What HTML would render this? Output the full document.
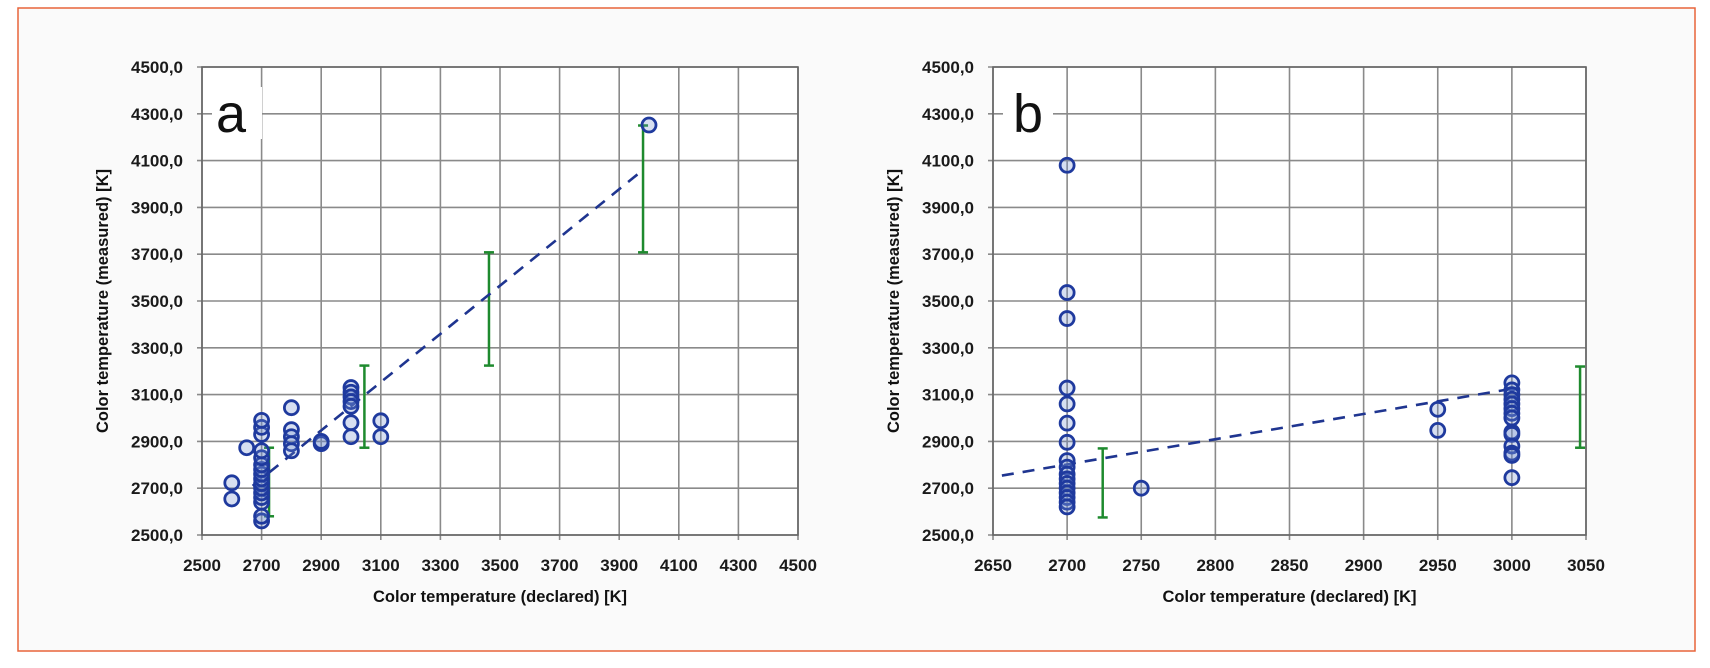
<!DOCTYPE html>
<html><head><meta charset="utf-8">
<style>
html,body{margin:0;padding:0;background:#fff;}
svg{display:block;font-family:"Liberation Sans",sans-serif;}
</style></head>
<body>
<svg id="root" width="1710" height="668" viewBox="0 0 1710 668">
  <rect x="18" y="8" width="1677" height="643" fill="#fafafa" stroke="#e8643a" stroke-width="1.5"/>
  <g id="chartA"></g>
  <g id="chartB"></g>
</svg>
<script>
// ---- Chart a data ----
const aXTicks = [2500,2700,2900,3100,3300,3500,3700,3900,4100,4300,4500];
const aYTicks = [2500,2700,2900,3100,3300,3500,3700,3900,4100,4300,4500];
const aPointsX = [2600,2600,2650,
  2700,2700,2700,2700,2700,2700,2700,2700,2700,2700,2700,2700,2700,2700,2700,2700,
  2800,2800,2800,2800,2800,2900,2900,
  3000,3000,3000,3000,3000,3000,3000,3100,3100,4000];
const aPointsY = [2723,2654,2873,
  2560,2580,2640,2660,2680,2700,2720,2740,2760,2780,2800,2830,2860,2930,2960,2990,
  3044,2950,2920,2890,2860,2890,2900,
  3130,3110,3090,3070,3050,2980,2920,2988,2920,4252];
const aTrendX = [2670,3970];
const aTrendY = [2710,4050];
const aErrX = [2725,3045,3463,3980];
const aErrLow = [2580,2873,3224,3708];
const aErrHigh = [2873,3224,3708,4250];

// ---- Chart b data ----
const bXTicks = [2650,2700,2750,2800,2850,2900,2950,3000,3050];
const bYTicks = [2500,2700,2900,3100,3300,3500,3700,3900,4100,4300,4500];
const bPointsX = [2700,2700,2700,2700,2700,2700,2700,2700,2700,2700,2700,2700,2700,2700,2700,2700,2700,
  2750,2950,2950,
  3000,3000,3000,3000,3000,3000,3000,3000,3000,3000,3000,3000,3000,3000];
const bPointsY = [4080,3536,3425,3128,3060,2978,2896,2818,2790,2760,2740,2720,2700,2680,2660,2640,2620,
  2700,3037,2947,
  3150,3120,3100,3080,3060,3040,3020,3000,2940,2930,2880,2850,2840,2745];
const bTrendX = [2656,3000];
const bTrendY = [2754,3125];
const bErrX = [2724,3046];
const bErrLow = [2575,2873];
const bErrHigh = [2870,3220];

const NS = "http://www.w3.org/2000/svg";
function mk(parent, tag, attrs){
  const e = document.createElementNS(NS, tag);
  for (const k in attrs) e.setAttribute(k, attrs[k]);
  parent.appendChild(e);
  return e;
}
function fmt(v){ return v.toFixed(1).replace('.', ','); }

function drawChart(g, cfg){
  const L=cfg.left, R=cfg.right, T=67, B=535;
  const sx = v => L + (v - cfg.xMin)/(cfg.xMax - cfg.xMin)*(R-L);
  const sy = v => B - (v - 2500)/(4500-2500)*(B-T);
  const plot = mk(g,'rect',{x:L,y:T,width:R-L,height:B-T,fill:'#ffffff'});
  
  
  cfg.xTicks.forEach(t=>{
    const ln = mk(g,'line',{x1:sx(t),x2:sx(t),y1:T,y2:B+5,stroke:'#8a8a8a','stroke-width':1.6});
    
    
    const tx = mk(g,'text',{x:sx(t),y:571,'text-anchor':'middle','font-size':17,'font-weight':'bold',fill:'#1a1a1a'});
    tx.textContent = t;
    
    
  });
  cfg.yTicks.forEach(t=>{
    const ln = mk(g,'line',{x1:L-5,x2:R,y1:sy(t),y2:sy(t),stroke:'#8a8a8a','stroke-width':1.6});
    
    
    const tx = mk(g,'text',{x:L-19,y:sy(t)+6,'text-anchor':'end','font-size':17,'font-weight':'bold',fill:'#1a1a1a'});
    tx.textContent = fmt(t);
    
    
  });
  const frame = mk(g,'rect',{x:L,y:T,width:R-L,height:B-T,fill:'none',stroke:'#666','stroke-width':1.6});
  
  
  const lbBg = mk(g,'rect',{x:L+10,y:T+20,width:50,height:52,fill:'#ffffff'});
  
  
  const lb = mk(g,'text',{x:L+cfg.letterDx,y:132,'font-size':54,fill:'#111'});
  lb.textContent = cfg.letter;
  
  
  cfg.errX.forEach((x,i)=>{
    const ex = sx(x), y1=sy(cfg.errLow[i]), y2=sy(cfg.errHigh[i]);
    const eg = mk(g,'g',{stroke:'#1e8a2e','stroke-width':2.5});
    
    
    mk(eg,'line',{x1:ex,x2:ex,y1:y1,y2:y2});
    mk(eg,'line',{x1:ex-5,x2:ex+5,y1:y1,y2:y1});
    mk(eg,'line',{x1:ex-5,x2:ex+5,y1:y2,y2:y2});
  });
  const tl = mk(g,'line',{x1:sx(cfg.trendX[0]),y1:sy(cfg.trendY[0]),x2:sx(cfg.trendX[1]),y2:sy(cfg.trendY[1]),stroke:'#1f3590','stroke-width':2.6,'stroke-dasharray':'12 9'});
  
  
  cfg.px.forEach((x,i)=>{
    const c = mk(g,'circle',{cx:sx(x),cy:sy(cfg.py[i]),r:7,fill:'rgba(110,140,205,0.28)',stroke:'#1f3a9e','stroke-width':2.8});
    
    
  });
  const xt = mk(g,'text',{x:(L+R)/2,y:602,'text-anchor':'middle','font-size':16.5,'font-weight':'bold',fill:'#111'});
  xt.textContent = 'Color temperature (declared) [K]';
  
  
  const yx = L-94, yy = (T+B)/2;
  const yt = mk(g,'text',{x:yx,y:yy,'text-anchor':'middle','font-size':16.5,'font-weight':'bold',fill:'#111',transform:`rotate(-90 ${yx} ${yy})`});
  yt.textContent = 'Color temperature (measured) [K]';
  
  
}

drawChart(document.getElementById('chartA'), {
  left:202, right:798, xMin:2500, xMax:4500, xTicks:aXTicks, yTicks:aYTicks,
  px:aPointsX, py:aPointsY, trendX:aTrendX, trendY:aTrendY,
  errX:aErrX, errLow:aErrLow, errHigh:aErrHigh, letter:'a', letterDx:14
});
drawChart(document.getElementById('chartB'), {
  left:993, right:1586, xMin:2650, xMax:3050, xTicks:bXTicks, yTicks:bYTicks,
  px:bPointsX, py:bPointsY, trendX:bTrendX, trendY:bTrendY,
  errX:bErrX, errLow:bErrLow, errHigh:bErrHigh, letter:'b', letterDx:20
});
</script>
</body></html>
